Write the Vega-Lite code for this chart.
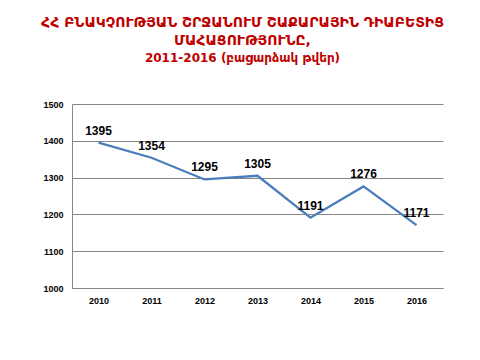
{
  "$schema": "https://vega.github.io/schema/vega-lite/v6.json",
  "width": 371,
  "height": 184,
  "autosize": "none",
  "padding": {"left": 72, "top": 104, "right": 37, "bottom": 72},
  "background": "white",
  "title": {
    "text": ["ՀՀ ԲՆԱԿՉՈՒԹՅԱՆ ՇՐՋԱՆՈՒՄ ՇԱՔԱՐԱՅԻՆ ԴԻԱԲԵՏԻՑ", "ՄԱՀԱՑՈՒԹՅՈՒՆԸ,"],
    "subtitle": "2011-2016 (բացարձակ թվեր)",
    "font": "DejaVu Sans",
    "fontSize": 14,
    "fontWeight": "bold",
    "color": "#C00000",
    "lineHeight": 18,
    "subtitleFont": "DejaVu Sans",
    "subtitleFontSize": 12,
    "subtitleFontWeight": "bold",
    "subtitleColor": "#C00000",
    "subtitlePadding": 5,
    "anchor": "middle",
    "dx": -15,
    "offset": 36
  },
  "data": {
    "values": [
      {"year": "2010", "value": 1395},
      {"year": "2011", "value": 1354},
      {"year": "2012", "value": 1295},
      {"year": "2013", "value": 1305},
      {"year": "2014", "value": 1191},
      {"year": "2015", "value": 1276},
      {"year": "2016", "value": 1171}
    ]
  },
  "encoding": {
    "x": {
      "field": "year",
      "type": "ordinal",
      "scale": {"type": "point", "padding": 0.5},
      "axis": {
        "title": null,
        "labelAngle": 0,
        "labelFont": "Liberation Sans",
        "labelFontSize": 9,
        "labelFontWeight": "bold",
        "labelColor": "#000000",
        "ticks": false,
        "labelPadding": 8,
        "domainColor": "#868686",
        "grid": false
      }
    },
    "y": {
      "field": "value",
      "type": "quantitative",
      "scale": {"domain": [1000, 1500], "nice": false, "zero": false},
      "axis": {
        "title": null,
        "values": [1000, 1100, 1200, 1300, 1400, 1500],
        "format": "d",
        "labelFont": "Liberation Sans",
        "labelFontSize": 9,
        "labelFontWeight": "bold",
        "labelColor": "#000000",
        "ticks": false,
        "labelPadding": 9,
        "domainColor": "#868686",
        "gridColor": "#868686",
        "gridWidth": 1
      }
    }
  },
  "layer": [
    {
      "mark": {"type": "line", "color": "#4A7EBB", "strokeWidth": 2.25}
    },
    {
      "mark": {"type": "text", "baseline": "bottom", "dy": -5, "font": "Liberation Sans", "fontSize": 12, "fontWeight": "bold", "color": "#000000"},
      "encoding": {"text": {"field": "value", "type": "quantitative", "format": "d"}}
    }
  ],
  "config": {"view": {"stroke": null}}
}
